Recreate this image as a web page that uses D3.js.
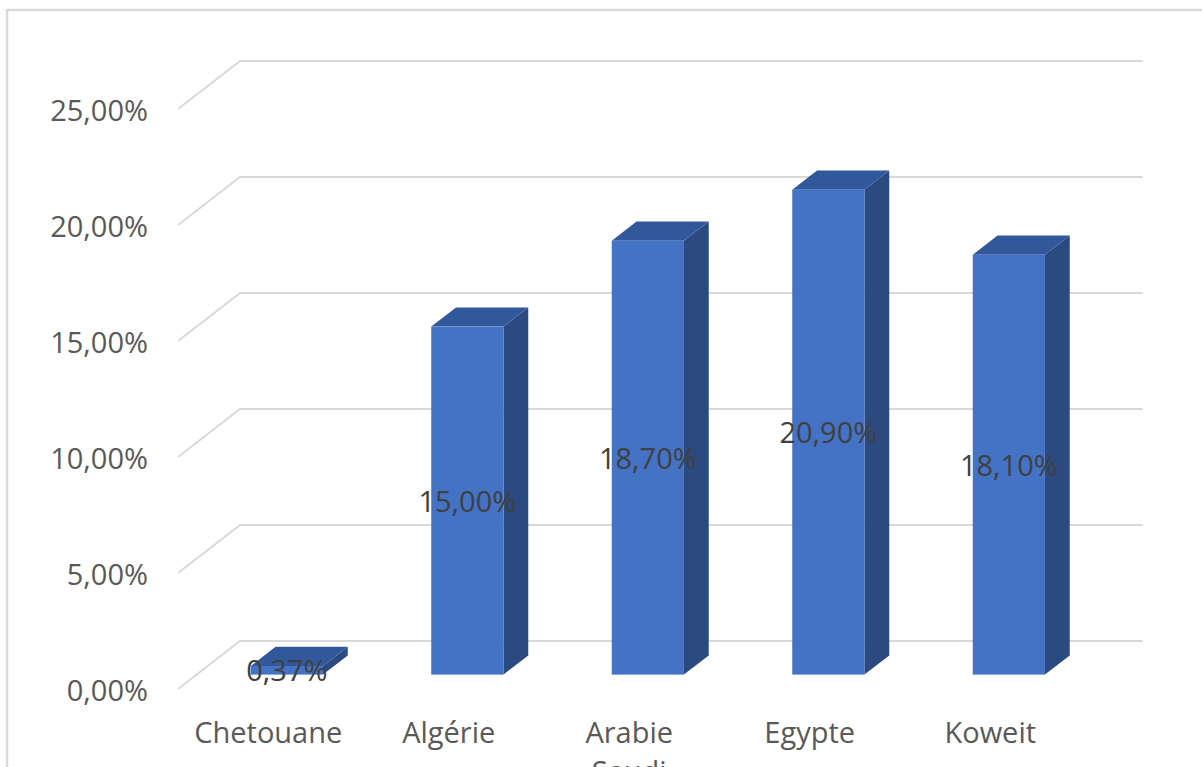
<!DOCTYPE html>
<html>
<head>
<meta charset="utf-8">
<script src="https://cdn.jsdelivr.net/npm/d3@7"></script>
<style>
  html, body { margin: 0; padding: 0; background: #ffffff; }
  svg { display: block; }
  text { font-family: "Open Sans", "Noto Sans", sans-serif; }
</style>
</head>
<body>
<svg id="chart" width="1202" height="767"></svg>
<script>
// Chart data
const categories = ["Chetouane", "Algérie", "Arabie Saudi", "Egypte", "Koweit"];
const values = [0.0037, 0.15, 0.187, 0.209, 0.181];
const tickValues = [0, 0.05, 0.10, 0.15, 0.20, 0.25];

// French number format: "25,00%"
const fr = d3.formatLocale({ decimal: ",", thousands: " ", grouping: [3], currency: ["", " €"], percent: "%" });
const pct = fr.format(".2%");

const svg = d3.select("#chart");

// Plot geometry (front plane of the 3D box), plus depth offset to the back wall
const plot = { left: 178, right: 1080.5, top: 109, bottom: 689 };
const depthX = 62, depthY = 48;
const barZ0 = 0.3, barZ1 = 0.7;   // bar depth within the floor, 0 = front, 1 = back

const x = d3.scaleBand().domain(categories).range([plot.left, plot.right])
  .paddingInner(0.6).paddingOuter(0.3);
const y = d3.scaleLinear().domain([0, 0.25]).range([plot.bottom, plot.top]);

// project (screen x on front plane, screen y on front plane, depth z)
const P = (px, py, z) => [px + z * depthX, py - z * depthY];

const colors = {
  grid: "#d9d9d9",
  front: "#4472c4",
  side: "#2b4a80",
  top: "#32589c",
  axisText: "#595959",
  labelText: "#404040"
};

// Outer chart frame
svg.append("rect")
  .attr("x", 7).attr("y", 10)
  .attr("width", 1400).attr("height", 900)
  .attr("fill", "none").attr("stroke", colors.grid).attr("stroke-width", 2.5);

// Gridlines: diagonal on the side wall + horizontal on the back wall
const grid = svg.append("g").attr("fill", "none").attr("stroke", colors.grid).attr("stroke-width", 2);
tickValues.forEach(v => {
  const a = P(plot.left, y(v), 0);
  const b = P(plot.left, y(v), 1);
  const c = P(plot.right, y(v), 1);
  grid.append("path").attr("d", d3.line()([a, b, c]));
});

// Value axis (labels only)
const yAxis = svg.append("g")
  .attr("transform", `translate(${plot.left},0)`)
  .call(d3.axisLeft(y).tickValues(tickValues).tickFormat(pct).tickSize(0).tickPadding(30));
yAxis.select(".domain").remove();
yAxis.selectAll("text")
  .attr("fill", colors.axisText)
  .attr("font-size", 29)
  .attr("font-family", '"Open Sans", "Noto Sans", sans-serif')
  .attr("dy", "0.38em");

// 3D bars
const bars = svg.append("g");
categories.forEach((cat, i) => {
  const v = values[i];
  const x0 = x(cat), x1 = x(cat) + x.bandwidth();
  const yb = y(0), yt = y(v);
  const g = bars.append("g");
  // side face
  g.append("path")
    .attr("d", d3.line()([P(x1, yb, barZ0), P(x1, yb, barZ1), P(x1, yt, barZ1), P(x1, yt, barZ0)]) + "Z")
    .attr("fill", colors.side);
  // top face
  g.append("path")
    .attr("d", d3.line()([P(x0, yt, barZ0), P(x0, yt, barZ1), P(x1, yt, barZ1), P(x1, yt, barZ0)]) + "Z")
    .attr("fill", colors.top);
  // front face
  const f0 = P(x0, yt, barZ0), f1 = P(x1, yb, barZ0);
  g.append("rect")
    .attr("x", f0[0]).attr("y", f0[1])
    .attr("width", f1[0] - f0[0]).attr("height", f1[1] - f0[1])
    .attr("fill", colors.front);
});

// Data labels, centred on each bar's front face
const labels = svg.append("g");
categories.forEach((cat, i) => {
  const v = values[i];
  const cx = x(cat) + x.bandwidth() / 2 + barZ0 * depthX;
  const cy = (y(0) + y(v)) / 2 - barZ0 * depthY;
  labels.append("text")
    .attr("x", cx).attr("y", cy + 11)
    .attr("text-anchor", "middle")
    .attr("font-size", 29)
    .attr("fill", colors.labelText)
    .text(pct(v));
});

// Category axis labels (wrapped onto two lines when they contain a space)
const xLabels = svg.append("g");
categories.forEach(cat => {
  const cx = x(cat) + x.bandwidth() / 2;
  const t = xLabels.append("text")
    .attr("x", cx).attr("y", 743)
    .attr("text-anchor", "middle")
    .attr("font-size", 29)
    .attr("fill", colors.axisText);
  cat.split(" ").forEach((word, k) => {
    t.append("tspan").attr("x", cx).attr("dy", k === 0 ? 0 : 39).text(word);
  });
});
</script>
</body>
</html>
